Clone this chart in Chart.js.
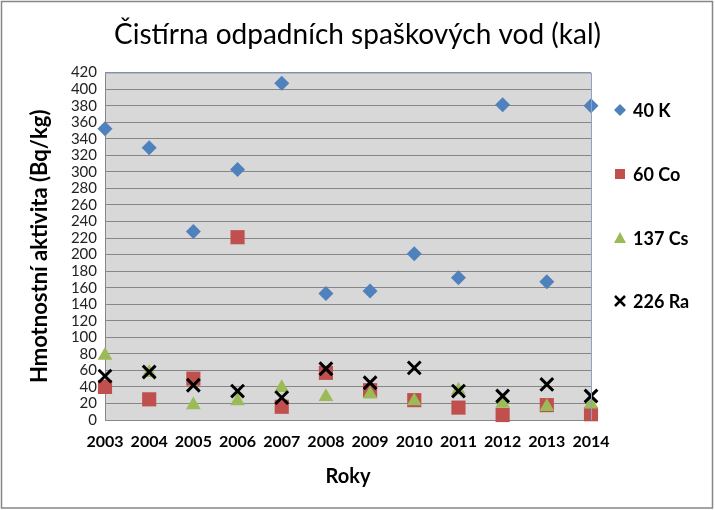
<!DOCTYPE html>
<html>
<head>
<meta charset="utf-8">
<script src="https://cdn.jsdelivr.net/npm/chart.js@4/dist/chart.umd.min.js"></script>
<style>
  body { margin: 0; background: #fff; }
  #wrap { width: 715px; height: 510px; }
</style>
</head>
<body>
<div id="wrap"><canvas id="chart" width="715" height="510"></canvas></div>
<script>
const years = ['2003', '2004', '2005', '2006', '2007', '2008', '2009', '2010', '2011', '2012', '2013', '2014'];
const k40 = [352, 329, 228, 303, 407, 153, 156, 201, 172, 381, 167, 380];
const co60 = [40, 25, 50, 221, 16, 57, 36, 24, 15, 6, 18, 7];
const cs137 = [78, 57, 18, 23, 39, 28, 31, 23, 36, 20, 16, 19];
const ra226 = [53, 58, 42, 35, 27, 62, 45, 63, 35, 29, 43, 29];
const seriesNames = ['40 K', '60 Co', '137 Cs', '226 Ra'];

const FONT = 'Lato, "Open Sans", sans-serif';

// grey plot area, blue top/right border, outer frame, legend on the right
const decor = {
    id: 'decor',
    beforeDraw(chart) {
        const { ctx, chartArea: a } = chart;
        ctx.save();
        ctx.fillStyle = '#d8d8d8';
        ctx.fillRect(a.left, a.top, a.right - a.left, a.bottom - a.top);
        ctx.restore();
    },
    afterDraw(chart) {
        const { ctx, chartArea: a } = chart;
        ctx.save();
        ctx.strokeStyle = '#8ea2c6';
        ctx.lineWidth = 1;
        ctx.beginPath();
        ctx.moveTo(a.left, a.top + 0.5);
        ctx.lineTo(a.right + 0.5, a.top + 0.5);
        ctx.lineTo(a.right + 0.5, a.bottom);
        ctx.stroke();

        ctx.strokeStyle = '#868686';
        ctx.lineWidth = 1.5;
        ctx.strokeRect(1.5, 1.5, 711, 506.5);

        // legend
        const rows = [110, 174, 238, 301];
        chart.data.datasets.forEach((ds, i) => {
            const cx = 620, cy = rows[i];
            ctx.fillStyle = ds.backgroundColor;
            ctx.strokeStyle = ds.borderColor;
            ctx.beginPath();
            if (ds.pointStyle === 'rectRot') {
                ctx.moveTo(cx, cy - 6); ctx.lineTo(cx + 6, cy); ctx.lineTo(cx, cy + 6); ctx.lineTo(cx - 6, cy);
                ctx.closePath(); ctx.fill();
            } else if (ds.pointStyle === 'rect') {
                ctx.rect(cx - 5, cy - 5, 10, 10); ctx.fill();
            } else if (ds.pointStyle === 'triangle') {
                ctx.moveTo(cx, cy - 6); ctx.lineTo(cx + 6, cy + 5); ctx.lineTo(cx - 6, cy + 5);
                ctx.closePath(); ctx.fill();
            } else {
                ctx.lineWidth = 2.5;
                ctx.moveTo(cx - 5, cy - 5); ctx.lineTo(cx + 5, cy + 5);
                ctx.moveTo(cx + 5, cy - 5); ctx.lineTo(cx - 5, cy + 5);
                ctx.stroke();
            }
            ctx.fillStyle = '#000';
            ctx.font = 'bold 18px ' + FONT;
            ctx.textBaseline = 'middle';
            ctx.textAlign = 'left';
            ctx.fillText(ds.label, 633, cy + 1);
        });
        ctx.restore();
    }
};

const ctx = document.getElementById('chart').getContext('2d');
new Chart(ctx, {
    type: 'line',
    data: {
        labels: years,
        datasets: [{
            label: seriesNames[0],
            data: k40,
            pointStyle: 'rectRot',
            pointRadius: 7.5,
            backgroundColor: '#4f81bd',
            borderColor: '#4f81bd',
            borderWidth: 0,
            order: 3
        }, {
            label: seriesNames[1],
            data: co60,
            pointStyle: 'rect',
            pointRadius: 10,
            backgroundColor: '#c0504d',
            borderColor: '#c0504d',
            borderWidth: 0,
            order: 2
        }, {
            label: seriesNames[2],
            data: cs137,
            pointStyle: 'triangle',
            pointRadius: 8.5,
            backgroundColor: '#9bbb59',
            borderColor: '#9bbb59',
            borderWidth: 0,
            order: 1
        }, {
            label: seriesNames[3],
            data: ra226,
            pointStyle: 'crossRot',
            pointRadius: 9,
            backgroundColor: '#000',
            borderColor: '#000',
            pointBorderWidth: 3,
            order: 0
        }]
    },
    options: {
        responsive: false,
        animation: false,
        showLine: false,
        clip: false,
        layout: { padding: { left: 25, right: 25, top: 0, bottom: 10 } },
        plugins: {
            legend: { display: false },
            tooltip: { enabled: false },
            title: {
                display: true,
                text: 'Čistírna odpadních spaškových vod (kal)',
                color: '#000',
                font: { family: FONT, size: 28, weight: 'normal', lineHeight: 1.2 },
                padding: { top: 18, bottom: 21 }
            }
        },
        scales: {
            x: {
                offset: false,
                grid: { display: false, drawTicks: false },
                border: { color: '#868686' },
                ticks: { color: '#000', padding: 12, maxRotation: 0, autoSkip: false,
                    font: { family: FONT, size: 16, weight: 'bold' } },
                title: { display: true, text: 'Roky', color: '#000',
                    font: { family: FONT, size: 20, weight: 'bold' },
                    padding: { top: 4, bottom: 11 } },
                afterFit(scale) { scale.height = 80; }
            },
            y: {
                min: 0,
                max: 420,
                grid: { color: '#868686', drawTicks: false },
                border: { color: '#868686' },
                ticks: { stepSize: 20, autoSkip: false, color: '#222', padding: 8,
                    font: { family: FONT, size: 15 } },
                title: { display: true, text: 'Hmotnostní aktivita (Bq/kg)', color: '#000',
                    font: { family: FONT, size: 22, weight: 'bold' },
                    padding: { top: 2, bottom: 4 } },
                afterFit(scale) { scale.width = 80; }
            },
            // empty right-hand space where the legend sits
            side: {
                position: 'right',
                grid: { display: false, drawTicks: false },
                border: { display: false },
                ticks: { display: false },
                afterFit(scale) { scale.width = 99; }
            }
        }
    },
    plugins: [decor]
});
</script>
</body>
</html>
